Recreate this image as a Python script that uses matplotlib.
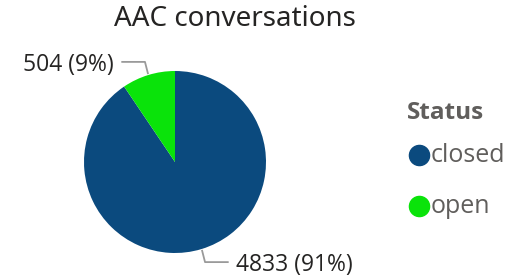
import numpy as np
import matplotlib
matplotlib.use("Agg")
import matplotlib.pyplot as plt
from matplotlib.lines import Line2D

categories = ["closed", "open"]
counts = [4833, 504]
colors = ["#0B4A7E", "#0AE30A"]
title = "AAC conversations"
legend_title = "Status"

W, H = 512, 278
fig = plt.figure(figsize=(W / 100, H / 100), dpi=100)
fig.patch.set_facecolor("white")

cx, cy, r = 175, 162, 91
ax = fig.add_axes([(cx - r) / W, (H - cy - r) / H, 2 * r / W, 2 * r / H])
ax.axis("off")

wedges, _ = ax.pie(counts, colors=colors, startangle=90, counterclock=False,
                   radius=1, center=(0, 0), frame=False)
ax.set_xlim(-1, 1)
ax.set_ylim(-1, 1)
ax.set_aspect("auto")

total = sum(counts)
label_font = dict(family=["Open Sans", "DejaVu Sans"], fontsize=16.5, color="#252423")
for w, c in zip(wedges, counts):
    mid = np.deg2rad((w.theta1 + w.theta2) / 2)
    x0, y0 = 1.02 * np.cos(mid), 1.02 * np.sin(mid)
    sgn = np.sign(np.cos(mid))
    ym = np.sign(np.sin(mid)) * 1.10
    xm = 0.33 * sgn
    xe = 0.58 * sgn
    ax.plot([x0, xm, xe], [y0, ym, ym], color="#9A9A9A", lw=1.3, clip_on=False)
    txt = f"{c} ({c / total:.0%})"
    ax.text(xe + 0.09 * sgn, ym - 0.03, txt, ha="left" if sgn > 0 else "right",
            va="center", clip_on=False, **label_font)

fig.text(235 / W, 1 - 19 / H, title, ha="center", va="center",
         family=["Noto Sans", "DejaVu Sans"], fontsize=20, color="#252423")

fig.text(407 / W, 1 - 113 / H, legend_title, ha="left", va="center",
         family=["Open Sans", "DejaVu Sans"], fontsize=17.5, fontweight="bold", color="#605E5C")
for i, (cat, col) in enumerate(zip(categories, colors)):
    yy = 1 - (155 + 51 * i) / H
    fig.add_artist(Line2D([419 / W], [yy], marker="o", markersize=14.5,
                          color=col, transform=fig.transFigure, linestyle="none"))
    fig.text(431 / W, yy - 1 / H, cat, ha="left", va="center",
             family=["Open Sans", "DejaVu Sans"], fontsize=18, color="#605E5C")

fig.savefig("out.png", dpi=100)
